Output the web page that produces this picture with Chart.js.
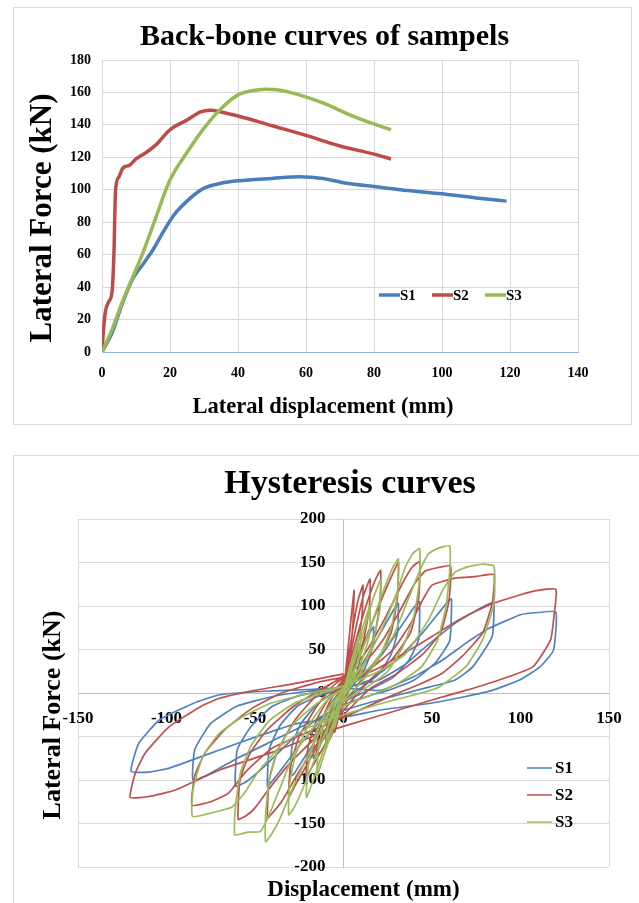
<!DOCTYPE html>
<html>
<head>
<meta charset="utf-8">
<script src="https://cdn.jsdelivr.net/npm/chart.js@4.4.1/dist/chart.umd.min.js"></script>
<style>
  html, body { margin: 0; padding: 0; background: #fff; width: 639px; height: 903px; overflow: hidden; }
  .box { position: absolute; border: 1px solid #d9d9d9; background: #fff; overflow: hidden; }
  #box1 { left: 13px; top: 7px; width: 617px; height: 416px; }
  #box2 { left: 13px; top: 455px; width: 672px; height: 460px; }
  canvas { display: block; }
</style>
</head>
<body>
<div class="box" id="box1"><canvas id="backbone" width="617" height="416"></canvas></div>
<div class="box" id="box2"><canvas id="hysteresis" width="672" height="447"></canvas></div>
<script>
// ---- back-bone curves: [displacement mm, force kN]
const s1Backbone = [[0,0],[3,12],[6,30],[9,45],[12,54],[15,63],[18,74],[21,84],[25,93],[30,101],[35,104],[40,105.5],[50,107],[58,108],[65,107],[72,104],[80,102],[90,99.5],[100,97.5],[110,95],[119,93]];
const s2Backbone = [[0,0],[0.5,15],[1,25],[2,31],[3,38],[3.5,60],[4,100],[5,108],[6,113],[7,114.5],[8,115],[10,119],[13,123],[16,128],[20,137],[25,143],[29,148],[32,149],[35,148],[40,145.5],[50,139.5],[60,133.5],[70,127],[80,122],[85,119]];
const s3Backbone = [[0,0],[3,14],[6,31],[9,46],[12,61],[15,78],[20,106],[25,123],[30,138],[35,150],[40,158.5],[44,161],[48,162],[52,161.5],[58,158.5],[65,153.5],[72,147],[78,142],[85,137]];

// ---- hysteresis loops: [displacement mm, force kN], in loading order
const s1Hyst = [
  [0,0],[2.5,15],[5,30],[4,15],[2,4],[0,-4],[-2.5,-16],[-5,-30],[-4,-15],[-2,-4],[0,2],
  [5,28],[10,55],[9,35],[6,16],[3,5],[0,-4],[-5,-28],[-10,-52],[-9,-32],[-6,-14],[-3,-3],[0,3],
  [6,30],[12,58],[17,76],[16,50],[12,28],[6,10],[0,-5],[-6,-28],[-12,-55],[-17,-75],[-16,-48],[-11,-25],[-5,-6],[0,4],
  [8,25],[16,52],[24,80],[29,98],[31,103],[30.5,70],[27,45],[20,22],[10,6],[0,-8],[-8,-28],[-16,-55],[-24,-80],[-28,-93],[-30,-95],[-29,-60],[-24,-35],[-15,-13],[-6,0],[0,5],
  [10,18],[22,45],[32,75],[39,96],[42,104],[43,105],[42.5,62],[37,38],[28,18],[15,4],[0,-10],[-12,-30],[-24,-58],[-34,-85],[-41,-103],[-43,-107],[-42,-65],[-36,-38],[-26,-15],[-12,-2],[0,5],
  [15,15],[30,38],[45,70],[55,95],[59,105],[61,108],[60,60],[52,35],[40,15],[25,3],[10,-6],[0,-14],[-15,-30],[-30,-55],[-45,-85],[-55,-102],[-61,-107],[-60,-65],[-52,-38],[-40,-15],[-25,-3],[-10,3],[0,6],
  [20,15],[35,33],[44,49],[63,80],[77,97],[83,103],[85,104],[84,65],[73,30],[63,15],[45,5],[20,-8],[0,-20],[-20,-35],[-40,-55],[-60,-75],[-75,-92],[-85,-100],[-84,-65],[-75,-35],[-60,-15],[-40,-4],[-20,2],[0,6],
  [21,3],[40,19],[56,38],[69,57],[82,74],[100,90],[110,92.5],[120,93],[118.6,49],[111,30],[99.5,15],[84,3],[69,-4],[50,-11.5],[21,-19.5],[2,-27],[-26,-35],[-60,-58],[-98,-86],[-110,-91],[-120,-90],[-115.7,-58],[-104,-31],[-85,-12],[-70,-2],[-45,2],[-20,4],[0,6]
];
const s2Hyst = [
  [0,0],[1,20],[3,60],[5,100],[6,118],[5.5,85],[4,50],[2,25],[0,5],[-2,-20],[-4,-38],[-5,-45],[-4,-25],[-2,-5],[0,10],
  [2,30],[5,70],[8,105],[11,124],[10.5,90],[8,55],[5,30],[2,12],[0,-5],[-4,-35],[-8,-54],[-10,-58],[-9,-35],[-6,-15],[-3,0],[0,12],
  [3,35],[7,75],[11,110],[15,131],[14.5,95],[11,58],[7,32],[3,14],[0,-8],[-5,-40],[-10,-60],[-15,-72],[-14,-45],[-10,-20],[-5,0],[0,14],
  [4,38],[9,75],[14,108],[18,130],[21,141],[20.5,102],[17,60],[12,35],[6,15],[0,-10],[-7,-45],[-14,-72],[-21,-95],[-20,-62],[-15,-30],[-8,-5],[0,16],
  [8,42],[16,80],[23,115],[28,138],[31,150],[30.5,110],[27,70],[20,40],[10,15],[0,-15],[-10,-45],[-20,-80],[-27,-105],[-31,-120],[-30,-85],[-25,-50],[-15,-15],[-6,8],[0,18],
  [12,45],[24,88],[33,125],[39,145],[43,151],[42.5,110],[38,70],[28,40],[15,15],[0,-20],[-12,-50],[-25,-90],[-35,-125],[-41,-140],[-43,-144],[-42,-100],[-37,-65],[-27,-30],[-14,0],[0,20],
  [12,35],[22,60],[32,95],[40,125],[46,140],[53,144],[60.5,146],[59.5,105],[55,70],[45,45],[30,22],[15,5],[0,-25],[-15,-50],[-30,-80],[-42,-110],[-50,-132],[-55,-141],[-59.5,-145],[-58.5,-100],[-53,-70],[-43,-42],[-28,-15],[-12,5],[0,18],
  [15,28],[28,50],[38,80],[45,108],[50,124],[63,132],[75,134],[85,136],[84,103],[78.6,69],[67,42],[56,23],[44,11],[25,-5],[0,-28],[-20,-45],[-40,-63],[-55,-90],[-65,-115],[-75,-125],[-85.6,-129],[-84,-95],[-78,-68],[-67,-42],[-52,-18],[-35,0],[-15,12],[0,18],
  [4,15],[21,30],[37,49],[50,65],[65,84],[82,101],[100,113],[110,118],[120,119],[119,90],[117,61],[107,30],[88,15],[69,3],[50,-8],[31,-19.5],[12,-31],[-1,-39],[-20,-52],[-40,-68],[-70,-88.5],[-95,-111.5],[-110,-119],[-120.5,-120],[-117.6,-92],[-112,-69],[-98.6,-39],[-81,-16],[-70,-6],[-50,3],[-30,10],[-10,18],[0,22]
];
const s3Hyst = [
  [0,0],[2.5,20],[5,40],[4,20],[2,6],[0,-3],[-2.5,-20],[-5,-40],[-4,-20],[-2,-6],[0,3],
  [5,40],[10,72],[9,45],[5,18],[0,-3],[-5,-35],[-10,-65],[-9,-40],[-5,-15],[0,3],
  [5,35],[10,70],[15,100],[14.5,65],[10,35],[4,8],[0,-5],[-5,-35],[-10,-65],[-15,-95],[-14,-60],[-10,-30],[-4,-6],[0,5],
  [6,35],[12,75],[17,110],[21,130],[20.5,95],[16,55],[10,25],[0,-5],[-6,-35],[-12,-70],[-17,-100],[-21,-120],[-20,-85],[-16,-50],[-10,-22],[0,5],
  [8,35],[16,80],[23,120],[28,145],[31,154],[30.5,115],[27,75],[20,40],[10,12],[0,-8],[-8,-35],[-16,-75],[-23,-110],[-28,-132],[-31,-140],[-30.5,-105],[-27,-70],[-20,-38],[-10,-10],[0,6],
  [12,35],[22,75],[30,115],[35,145],[39,160],[43,166],[43,130],[40,90],[34,55],[25,25],[12,5],[0,-10],[-12,-40],[-22,-80],[-30,-115],[-36,-145],[-40,-160],[-44,-171],[-44,-140],[-42,-100],[-37,-65],[-28,-35],[-15,-12],[0,5],
  [15,30],[28,65],[36,105],[43,140],[48,160],[53,166],[60,169],[60,140],[58,100],[53,60],[44,30],[30,10],[15,-3],[0,-15],[-15,-35],[-28,-70],[-36,-110],[-42,-140],[-47,-159],[-54,-160],[-61.4,-163],[-61,-130],[-58,-90],[-52,-60],[-42,-32],[-28,-12],[-12,0],[0,8],
  [20,25],[35,45],[48,84],[56,118],[63,139],[70,145],[78,148],[85,146],[85,103],[78.6,61],[69,30],[54,7],[44,0],[25,-10],[0,-25],[-20,-40],[-35,-60],[-48,-90],[-56,-115],[-63,-131],[-75,-138],[-85.3,-142],[-85,-111],[-79.5,-73],[-70,-46],[-56.7,-27],[-41.4,-12],[-22.4,-2],[0,8]
];

const seriesNames = ['S1', 'S2', 'S3'];
const backboneColors = ['#4a7ebb', '#be4b48', '#98b954'];
const hystColors = ['#4f81bd', '#c0504d', '#9bbb59'];

const toXY = arr => arr.map(p => ({ x: p[0], y: p[1] }));
const serif = 'Liberation Serif, Times New Roman, serif';

// legend drawn as short line + label, placed inside the plot area
const lineLegend = {
  id: 'lineLegend',
  afterDatasetsDraw(chart, args, opts) {
    const { ctx, chartArea } = chart;
    ctx.save();
    ctx.font = opts.font;
    ctx.textBaseline = 'middle';
    ctx.textAlign = 'left';
    chart.data.datasets.forEach((ds, i) => {
      const x = chartArea.left + opts.left + i * opts.stepX;
      const y = chartArea.top + opts.top + i * opts.stepY;
      ctx.strokeStyle = ds.borderColor;
      ctx.lineWidth = opts.lineWidth;
      ctx.beginPath();
      ctx.moveTo(x, y);
      ctx.lineTo(x + opts.lineLen, y);
      ctx.stroke();
      ctx.fillStyle = '#000';
      ctx.fillText(ds.label, x + opts.lineLen + opts.gap, y + 1);
    });
    ctx.restore();
  }
};

// titles placed freely on the canvas (chart title + axis titles)
const textPlugin = items => ({
  id: 'freeTexts',
  afterDraw(chart) {
    const { ctx } = chart;
    items.forEach(t => {
      ctx.save();
      ctx.fillStyle = '#000';
      ctx.textAlign = 'center';
      ctx.textBaseline = 'middle';
      ctx.font = t.font;
      ctx.translate(t.x, t.y);
      if (t.vertical) ctx.rotate(-Math.PI / 2);
      ctx.fillText(t.text, 0, 0);
      ctx.restore();
    });
  }
});

new Chart(document.getElementById('backbone'), {
  type: 'scatter',
  data: {
    datasets: [s1Backbone, s2Backbone, s3Backbone].map((d, i) => ({
      label: seriesNames[i],
      data: toXY(d),
      showLine: true,
      borderColor: backboneColors[i],
      backgroundColor: backboneColors[i],
      borderWidth: 3.5,
      pointRadius: 0,
      cubicInterpolationMode: 'monotone',
      order: 2 - i
    }))
  },
  plugins: [lineLegend, textPlugin([
    { text: 'Back-bone curves of sampels', x: 310.5, y: 29.5, font: 'bold 30px ' + serif },
    { text: 'Lateral Force (kN)', x: 29, y: 210, font: 'bold 31px ' + serif, vertical: true },
    { text: 'Lateral displacement (mm)', x: 309, y: 399, font: 'bold 22.5px ' + serif }
  ])],
  options: {
    responsive: false,
    animation: false,
    layout: { padding: { left: 0, right: 53, top: 52, bottom: 0 } },
    plugins: {
      legend: { display: false },
      tooltip: { enabled: false },
      title: { display: false },
      lineLegend: { left: 277, top: 235, stepX: 53, stepY: 0, lineLen: 21, gap: 0, lineWidth: 3.5, font: 'bold 15px ' + serif }
    },
    scales: {
      x: {
        type: 'linear', min: 0, max: 140,
        ticks: { stepSize: 20, color: '#000', padding: 13, font: { family: serif, size: 14, weight: 'bold' } },
        grid: { color: '#d9d9d9', drawTicks: false },
        border: { color: '#8db3e2', width: 1 },
        afterFit: s => { s.height = 72; }
      },
      y: {
        type: 'linear', min: 0, max: 180,
        ticks: { stepSize: 20, color: '#000', padding: 11, font: { family: serif, size: 14, weight: 'bold' } },
        grid: { color: '#d9d9d9', drawTicks: false },
        border: { color: '#d9d9d9' },
        afterFit: s => { s.width = 88; }
      }
    }
  }
});

new Chart(document.getElementById('hysteresis'), {
  type: 'scatter',
  data: {
    datasets: [s1Hyst, s2Hyst, s3Hyst].map((d, i) => ({
      label: seriesNames[i],
      data: toXY(d),
      showLine: true,
      borderColor: hystColors[i],
      backgroundColor: hystColors[i],
      borderWidth: 1.7,
      pointRadius: 0,
      tension: 0.15,
      order: 2 - i
    }))
  },
  plugins: [lineLegend, textPlugin([
    { text: 'Hysteresis curves', x: 336, y: 28, font: 'bold 34px ' + serif },
    { text: 'Displacement (mm)', x: 349.5, y: 434, font: 'bold 23px ' + serif },
    { text: 'Lateral Force (kN)', x: 39, y: 259, font: 'bold 26px ' + serif, vertical: true }
  ])],
  options: {
    responsive: false,
    animation: false,
    layout: { padding: { left: 64, right: 77, top: 63, bottom: 36 } },
    plugins: {
      legend: { display: false },
      tooltip: { enabled: false },
      title: { display: false },
      lineLegend: { left: 449, top: 249, stepX: 0, stepY: 27, lineLen: 25, gap: 3, lineWidth: 1.5, font: 'bold 17px ' + serif }
    },
    scales: {
      x: {
        type: 'linear', min: -150, max: 150, position: 'center',
        ticks: { stepSize: 50, color: '#000', padding: 15, font: { family: serif, size: 17, weight: 'bold' } },
        grid: { drawTicks: false, color: c => (c.tick && Math.abs(c.tick.value) === 150) ? '#d9d9d9' : 'rgba(0,0,0,0)' },
        border: { color: '#bfbfbf' }
      },
      y: {
        type: 'linear', min: -200, max: 200, position: 'center',
        ticks: { stepSize: 50, color: '#000', padding: 18, font: { family: serif, size: 17, weight: 'bold' } },
        grid: { color: '#d9d9d9', drawTicks: false },
        border: { color: '#bfbfbf' }
      }
    }
  }
});
</script>
</body>
</html>
